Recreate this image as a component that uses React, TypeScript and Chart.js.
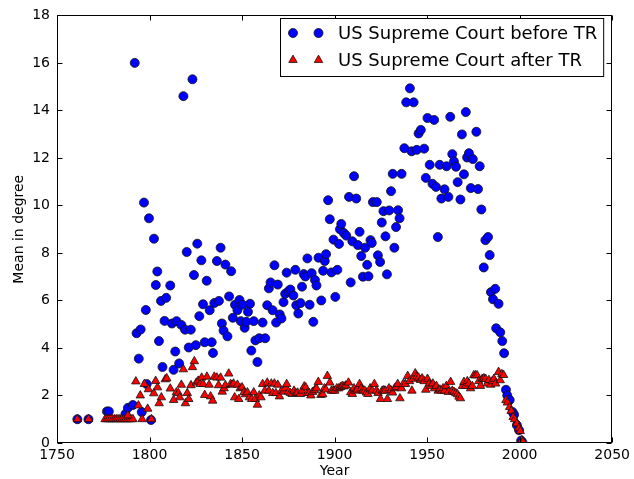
import React, { useEffect, useRef } from 'react';
import { Chart, registerables } from 'chart.js';

Chart.register(...registerables);

const seriesLabels = ['US Supreme Court before TR', 'US Supreme Court after TR'];
const xTitle = 'Year';
const yTitle = 'Mean in degree';
const xRange = [1750, 2050];
const xStep = 50;
const yRange = [0, 18];
const yStep = 2;

const blueYears = [
  1761, 1767, 1777, 1778, 1787, 1788.3, 1791, 1792, 1793, 1794.2, 1795.2, 1795.8, 1797, 1798, 1798.5, 1799.7,
  1800.8, 1802.4, 1803.4, 1804.2, 1805.1, 1806.2, 1807, 1808.1, 1809, 1811.2, 1812.1, 1813, 1813.9, 1814.6,
  1816, 1817.2, 1818.3, 1819.2, 1820.1, 1821.2, 1822.3, 1823.2, 1824, 1825, 1825.8, 1826.9, 1828, 1828.9,
  1829.8, 1830.9, 1832.5, 1833.6, 1834.3, 1835, 1836.4, 1837.5, 1838.4, 1839.1, 1840, 1841, 1842.1, 1843,
  1844.1, 1845, 1846.2, 1847.5, 1848.6, 1849.3, 1850.2, 1851.4, 1852.3, 1853.2, 1854.3, 1855, 1856.3, 1857.2,
  1858.3, 1859.3, 1861.1, 1862.5, 1863.6, 1864.5, 1865.4, 1866.5, 1867.5, 1868.4, 1869.3, 1870.4, 1871.3,
  1872.4, 1873.3, 1874.1, 1875, 1876.1, 1877.7, 1878.8, 1879.3, 1880.4, 1881.6, 1882.4, 1883.3, 1884.2,
  1885.3, 1886.5, 1887.6, 1888.5, 1889.4, 1890.2, 1891.3, 1892.8, 1893.8, 1894.7, 1895.4, 1896.5, 1897.4,
  1898.3, 1899.4, 1900.4, 1901.5, 1902.4, 1902.9, 1903.6, 1905, 1906.3, 1907.8, 1908.7, 1909.6, 1910.5,
  1911.7, 1912.6, 1913.5, 1914.4, 1915.3, 1916.5, 1917.6, 1918.3, 1919.4, 1920.1, 1920.7, 1922.8, 1923.4,
  1924.6, 1925.5, 1926.4, 1927.5, 1928.3, 1929.5, 1930.5, 1931.4, 1932.3, 1933.2, 1934.3, 1935.1, 1936.2,
  1937.7, 1938.7, 1940.7, 1941.6, 1942.7, 1944.4, 1945.4, 1946.6, 1948.4, 1949.3, 1950.2, 1951.4, 1952.9,
  1953.8, 1954.8, 1955.8, 1956.8, 1957.7, 1959.4, 1960.5, 1961.5, 1962.5, 1963.6, 1964.5, 1965.6, 1966.5,
  1968, 1968.8, 1969.9, 1970.9, 1971.6, 1972.6, 1973.6, 1974.7, 1976.6, 1977.5, 1978.4, 1979.3, 1980.6,
  1981.5, 1982.9, 1983.8, 1984.5, 1985.6, 1986.8, 1987.3, 1988.6, 1989.5, 1990.6, 1991.6, 1992.6, 1993.3,
  1994.6, 1996.2, 1997, 1998.5, 1999.7, 2000.8, 2001.5,
];
const blueValues = [
  1.0, 1.0, 1.33, 1.33, 1.22, 1.48, 1.6, 16.0, 4.62, 3.55, 4.78, 1.3, 10.12, 5.6, 2.48, 9.46,
  0.97, 8.6, 6.65, 7.22, 4.29, 5.98, 3.2, 5.14, 6.11, 6.63, 5.03, 3.08, 3.85, 5.13,
  3.35, 4.97, 14.6, 4.77, 8.04, 4.02, 4.77, 15.31, 7.07, 4.12, 8.39, 5.34, 7.69, 5.84,
  4.24, 6.83, 5.59, 4.24, 3.79, 5.89, 7.66, 5.98, 8.22, 5.03, 4.73, 7.51, 4.49, 6.17,
  7.23, 5.27, 5.82, 5.59, 6.02, 5.13, 5.82, 4.85, 5.1, 5.52, 5.86, 3.89, 5.13, 4.32,
  3.41, 4.41, 5.07, 4.41, 5.8, 6.51, 6.76, 5.59, 7.48, 5.07, 6.67, 5.41, 5.24,
  5.93, 6.28, 7.17, 6.38, 6.46, 6.21, 7.29, 5.8, 5.45, 5.89, 6.58, 7.11, 7.01,
  7.77, 5.82, 7.15, 5.1, 6.86, 6.63, 7.8, 6.0, 7.25, 7.66, 7.95, 10.22, 9.42,
  7.18, 8.56, 6.15, 7.29, 8.38, 9.0, 9.22, 8.84, 8.73, 10.36, 6.76, 8.49, 11.23,
  10.29, 8.33, 8.89, 7.87, 7.0, 8.22, 7.5, 7.02, 8.54, 8.42, 10.14, 10.14, 7.9,
  7.62, 9.28, 9.76, 8.7, 7.1, 9.79, 10.6, 11.33, 8.22, 9.09, 9.8, 9.46, 11.33,
  12.41, 14.34, 14.93, 12.28, 14.34, 12.34, 13.03, 13.18, 12.39, 11.16, 13.68, 11.71, 10.91,
  13.6, 10.78, 8.67, 11.71, 10.29, 10.68, 11.65, 10.36, 13.73, 12.16, 11.85, 11.63, 10.98,
  10.25, 12.99, 11.31, 13.93, 12.02, 12.2, 10.73, 11.95, 13.1, 10.69, 11.65, 9.83, 7.39,
  8.54, 8.67, 7.91, 6.35, 6.05, 6.49, 4.83, 5.86, 4.66, 4.29, 3.78, 2.24, 2.0,
  1.81, 1.3, 1.19, 0.75, 0.54, 0.1, 0.03,
];

const redYears = [
  1761, 1767, 1776, 1777, 1778, 1779, 1780, 1781, 1782, 1783, 1784, 1785, 1786, 1787, 1788, 1789, 1790, 1791,
  1788.3, 1792.6, 1794, 1795, 1796, 1797.2, 1799, 1799.4, 1801, 1802.3, 1803.3, 1804.3, 1805.2, 1806.4,
  1808.5, 1809.3, 1811.2, 1813, 1814.5, 1815.6, 1816.3, 1817.2, 1818.3, 1819.4, 1820.4, 1821.2, 1822.4,
  1823.2, 1824.2, 1825.3, 1826.3, 1827.3, 1828.2, 1829, 1829.8, 1831, 1832.2, 1833, 1834.1, 1835, 1836.4,
  1837.3, 1838.4, 1839.3, 1840.3, 1841, 1842.8, 1843.8, 1844.6, 1845.4, 1846, 1847.5, 1848.2, 1849, 1850,
  1851, 1851.9, 1852.9, 1854, 1855.2, 1856.3, 1857.2, 1858.3, 1859.3, 1860.2, 1861.1, 1862.3, 1863.6,
  1864.5, 1865.8, 1866.6, 1867.5, 1868.3, 1869.3, 1870.2, 1871.3, 1872.4, 1873.2, 1874.1, 1875.1, 1876.1,
  1877.1, 1878.1, 1879, 1880, 1881.5, 1882.5, 1883.6, 1884.4, 1885.3, 1886.2, 1887.2, 1888.1, 1889.2,
  1890.2, 1891.2, 1892.6, 1893.6, 1894.5, 1895.3, 1896.1, 1897.4, 1898.3, 1899.2, 1900.1, 1901.2, 1902.3,
  1903.2, 1904.2, 1905.1, 1906.1, 1907.5, 1908.7, 1909.6, 1910.5, 1911.4, 1912.3, 1913.5, 1914.4, 1915.3,
  1916.3, 1917.2, 1918, 1919.2, 1920.3, 1921.5, 1922.6, 1923.5, 1924.8, 1925.7, 1926.6, 1927.4, 1928.5,
  1929.4, 1930.4, 1931.3, 1932.4, 1933.3, 1934.1, 1935.3, 1936.2, 1937.2, 1938.3, 1939.5, 1940.5, 1941.8,
  1942.5, 1943.6, 1944.5, 1945.4, 1946.4, 1947.3, 1948.4, 1949.3, 1950.2, 1951.2, 1952.1, 1953.1, 1954,
  1955, 1956, 1956.9, 1957.8, 1958.6, 1959.5, 1960.4, 1961.4, 1962.7, 1963.6, 1964.5, 1965.5, 1966.4,
  1967.2, 1968, 1969.1, 1969.9, 1970.8, 1971.7, 1972.6, 1973.5, 1974.4, 1975.2, 1976.1, 1977, 1977.9,
  1978.8, 1979.8, 1980.7, 1981.6, 1982.5, 1983.4, 1984.3, 1985.2, 1986.1, 1987, 1988.6, 1989.5, 1990.4,
  1991.3, 1992.6, 1993.4, 1994.6, 1995.4, 1996.5, 1997.3, 1998.5, 1999.5, 2000.3, 2001.2, 2001.8,
];
const redValues = [
  1.0, 1.0, 1.0, 1.0, 1.0, 1.0, 1.0, 1.0, 1.0, 1.0, 1.0, 1.0, 1.0, 1.0, 1.0, 1.0, 1.0, 1.0,
  1.16, 2.59, 1.58, 2.0, 1.0, 2.48, 1.44, 2.26, 1.0, 2.09, 2.61, 2.34, 1.67, 1.92,
  2.68, 2.72, 2.29, 1.81, 2.13, 2.1, 1.92, 2.45, 3.1, 1.67, 2.1, 1.85, 2.43,
  3.19, 3.44, 2.54, 2.62, 2.48, 2.75, 2.48, 2.02, 2.79, 2.45, 1.96, 1.78, 2.79, 2.75,
  2.43, 2.75, 2.16, 2.3, 2.43, 2.92, 2.48, 2.45, 2.5, 1.92, 2.45, 1.85, 2.3, 2.34,
  2.13, 2.05, 2.13, 1.92, 1.85, 2.13, 1.85, 1.61, 2.0, 1.92, 2.48, 2.2, 2.54,
  2.2, 2.5, 2.1, 2.5, 2.1, 2.45, 1.96, 2.2, 2.16, 2.3, 2.48, 2.16, 2.1,
  2.06, 2.2, 2.1, 2.12, 2.06, 2.2, 2.38, 2.34, 2.1, 2.1, 2.0, 2.15, 2.22,
  2.3, 2.57, 2.02, 2.05, 2.3, 2.25, 2.82, 2.54, 2.2, 2.2, 2.2, 2.3, 2.3,
  2.35, 2.4, 2.38, 2.42, 2.54, 2.13, 2.06, 2.3, 2.2, 2.25, 2.48, 2.3, 2.2,
  2.2, 2.12, 2.06, 2.3, 2.2, 2.48, 2.2, 2.1, 1.85, 2.2, 2.22, 2.2, 1.85,
  2.3, 2.22, 2.12, 2.3, 2.35, 2.48, 1.88, 2.3, 2.5, 2.48, 2.82, 2.6, 2.2,
  2.7, 2.93, 2.8, 2.75, 2.65, 2.72, 2.6, 2.24, 2.7, 2.5, 2.4, 2.5, 2.3,
  2.4, 2.2, 2.25, 2.2, 2.3, 2.2, 2.4, 2.15, 2.57, 2.2, 2.15, 2.1, 2.05,
  1.95, 1.88, 2.4, 2.57, 2.4, 2.6, 2.5, 2.3, 2.4, 2.85, 2.85, 2.85, 2.6,
  2.4, 2.7, 2.72, 2.7, 2.5, 2.65, 2.45, 2.6, 2.7, 2.5, 2.99, 2.64, 2.9,
  2.86, 1.8, 1.7, 1.51, 1.35, 1.09, 1.0, 0.82, 0.62, 0.5, 0.12, 0.04,
];

const FONT = 'DejaVu Sans';
const BLUE = '#0000ff';
const RED = '#ff0000';
const EDGE = '#111';

function toPoints(xs: number[], ys: number[]) {
  return xs.map((x, i) => ({ x, y: ys[i] }));
}

function drawTriangle(ctx: CanvasRenderingContext2D, x: number, y: number, r: number) {
  let rad = 0;
  const step = (2 * Math.PI) / 3;
  ctx.beginPath();
  ctx.moveTo(x + Math.sin(rad) * r, y - Math.cos(rad) * r);
  rad += step;
  ctx.lineTo(x + Math.sin(rad) * r, y - Math.cos(rad) * r);
  rad += step;
  ctx.lineTo(x + Math.sin(rad) * r, y - Math.cos(rad) * r);
  ctx.closePath();
}

export default function App() {
  const ref = useRef<HTMLCanvasElement>(null);

  useEffect(() => {
    document.body.style.margin = '0';
    const canvas = ref.current;
    if (!canvas) return;

    const framePlugin = {
      id: 'mplFrame',
      afterDatasetsDraw(chart: any) {
        const { ctx, chartArea, scales } = chart;
        const { left, right, top, bottom } = chartArea;
        const L = Math.round(left) + 0.5;
        const R = Math.round(right) - 0.5;
        const T = Math.round(top) + 0.5;
        const B = Math.round(bottom) - 0.5;
        ctx.save();
        ctx.strokeStyle = '#000';
        ctx.lineWidth = 1;
        ctx.strokeRect(L, T, R - L, B - T);
        const len = 5;
        ctx.beginPath();
        scales.x.ticks.forEach((t: any) => {
          const px = Math.round(scales.x.getPixelForValue(t.value)) + 0.5;
          ctx.moveTo(px, B);
          ctx.lineTo(px, B - len);
          ctx.moveTo(px, T);
          ctx.lineTo(px, T + len);
        });
        scales.y.ticks.forEach((t: any) => {
          const py = Math.round(scales.y.getPixelForValue(t.value)) + 0.5;
          ctx.moveTo(L, py);
          ctx.lineTo(L + len, py);
          ctx.moveTo(R, py);
          ctx.lineTo(R - len, py);
        });
        ctx.stroke();
        ctx.restore();
      },
    };

    const legendPlugin = {
      id: 'mplLegend',
      afterDraw(chart: any) {
        const { ctx, chartArea } = chart;
        const boxRight = chartArea.right - 9;
        const boxLeft = 280;
        const boxTop = 18.5;
        const boxH = 58;
        ctx.save();
        ctx.fillStyle = '#fff';
        ctx.strokeStyle = '#000';
        ctx.lineWidth = 1;
        ctx.fillRect(boxLeft + 0.5, boxTop, boxRight - boxLeft, boxH);
        ctx.strokeRect(boxLeft + 0.5, boxTop, boxRight - boxLeft, boxH);
        const rows = [boxTop + 14.5, boxTop + 41.5];
        const mx = [boxLeft + 13, boxLeft + 38.5];
        ctx.lineWidth = 0.8;
        ctx.strokeStyle = EDGE;
        mx.forEach((x) => {
          ctx.beginPath();
          ctx.arc(x, rows[0], 4.5, 0, Math.PI * 2);
          ctx.fillStyle = BLUE;
          ctx.fill();
          ctx.stroke();
          drawTriangle(ctx, x, rows[1], 4.9);
          ctx.fillStyle = RED;
          ctx.fill();
          ctx.stroke();
        });
        ctx.fillStyle = '#000';
        ctx.font = `18px "${FONT}"`;
        ctx.textBaseline = 'middle';
        ctx.textAlign = 'left';
        ctx.fillText(seriesLabels[0], boxLeft + 58, rows[0] + 1);
        ctx.fillText(seriesLabels[1], boxLeft + 58, rows[1] + 1);
        ctx.restore();
      },
    };

    const chart = new Chart(canvas, {
      type: 'scatter',
      data: {
        datasets: [
          {
            label: seriesLabels[0],
            data: toPoints(blueYears, blueValues),
            pointStyle: 'circle',
            pointRadius: 4.5,
            pointHoverRadius: 4.5,
            backgroundColor: BLUE,
            borderColor: EDGE,
            borderWidth: 0.8,
            order: 2,
          },
          {
            label: seriesLabels[1],
            data: toPoints(redYears, redValues),
            pointStyle: 'triangle',
            pointRadius: 4.9,
            pointHoverRadius: 4.9,
            backgroundColor: RED,
            borderColor: EDGE,
            borderWidth: 0.8,
            order: 1,
          },
        ],
      },
      options: {
        responsive: false,
        animation: false,
        devicePixelRatio: 1,
        layout: { padding: { left: 0, right: 18, top: 10, bottom: 0 } },
        plugins: {
          legend: { display: false },
          tooltip: { enabled: false },
        },
        scales: {
          x: {
            type: 'linear',
            min: xRange[0],
            max: xRange[1],
            afterFit: (s: any) => {
              s.height = 36;
            },
            ticks: {
              stepSize: xStep,
              color: '#000',
              font: { family: FONT, size: 14 },
              padding: 4,
              maxRotation: 0,
              callback: (v: any) => String(v),
            },
            grid: { display: false, drawTicks: false },
            border: { display: false },
            title: {
              display: true,
              text: xTitle,
              color: '#000',
              font: { family: FONT, size: 14, lineHeight: 1.05 },
              padding: { top: 0, bottom: 0 },
            },
          },
          y: {
            type: 'linear',
            min: yRange[0],
            max: yRange[1],
            afterFit: (s: any) => {
              s.width = 57;
            },
            ticks: {
              stepSize: yStep,
              color: '#000',
              font: { family: FONT, size: 14 },
              padding: 7,
              callback: (v: any) => String(v),
            },
            grid: { display: false, drawTicks: false },
            border: { display: false },
            title: {
              display: true,
              text: yTitle,
              color: '#000',
              font: { family: FONT, size: 14 },
              padding: { top: 11, bottom: 0 },
            },
          },
        },
      },
      plugins: [framePlugin, legendPlugin],
    });

    return () => {
      chart.destroy();
    };
  }, []);

  return <canvas ref={ref} width={634} height={479} style={{ display: 'block' }} />;
}
